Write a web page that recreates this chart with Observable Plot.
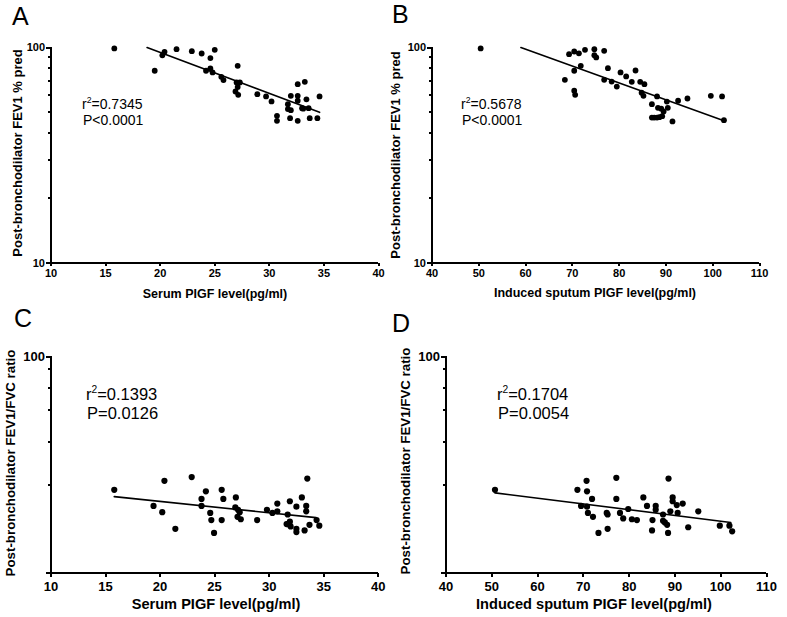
<!DOCTYPE html>
<html>
<head>
<meta charset="utf-8">
<script src="https://cdn.jsdelivr.net/npm/d3@7"></script>
<script src="https://cdn.jsdelivr.net/npm/@observablehq/plot@0.6"></script>
<style>
  html, body { margin: 0; padding: 0; background: #fff; }
  #root { position: relative; width: 787px; height: 617px; overflow: hidden; background: #fff; }
  #root > svg { position: absolute; }
  #root g[aria-label$="axis tick"] path,
  #root g[aria-label="rule"] line { shape-rendering: crispEdges; }
</style>
</head>
<body>
<div id="root"></div>
<script>
// ---------- data ----------
const serumA = [15.8,19.5,20.2,20.4,21.5,22.9,23.8,24.6,25.0,24.2,24.6,24.8,25.6,25.8,27.1,27.0,27.3,27.1,26.9,27.15,28.9,29.7,30.2,30.7,30.7,31.7,31.7,31.9,31.97,31.97,32.6,32.6,32.6,32.6,33.25,33.0,33.1,33.4,33.6,33.7,34.4,34.6];
const fev1A  = [99,78,92,95.5,98.2,96.2,93.8,89.3,97.5,78,80,76.6,73.1,70.6,82.2,68.8,68.8,65.5,62.5,60.3,60.7,59.3,56.2,48.2,45.7,54.6,51.8,47.0,51.2,59.7,67.6,59.7,56.6,45.7,69.3,52.3,52.0,57.5,52.3,47.0,47.0,59.3];

const sputumB = [50.4,68.4,69.3,70.4,70.4,71.4,71.8,70.4,70.6,72.7,74.7,74.7,75.1,76.8,76.8,77.6,78.4,79.5,80.3,81.5,82.7,83.5,84.5,85.4,84.8,85.2,87.0,88.1,87.0,87.5,88.1,88.6,89.2,88.3,89.0,89.5,90.4,90.2,91.4,92.6,94.6,99.6,102.0,102.4];
const fev1B   = [99,70.8,93.1,95.8,78,94,82.2,63,60.3,97.5,98.2,92.1,89.9,96.5,70.8,80.2,69.5,65.9,76.6,73.4,69.3,78.2,69.3,67.6,61.7,59.7,54.6,59.3,47.3,47.3,47.3,47.5,48,52.5,52,50.5,52.5,56.1,45.4,56.6,58.0,59.7,59.3,46.0];

const serumC = [15.8,19.4,20.2,20.4,21.4,22.9,23.8,23.8,24.2,24.6,24.7,24.95,25.65,25.8,25.65,26.95,26.9,27.15,27.1,27.3,27.4,28.9,29.8,30.3,30.75,30.75,31.7,31.6,31.7,31.9,31.9,31.97,32.5,32.5,32.5,33.0,33.25,33.4,33.4,33.5,33.7,34.35,34.6];
const ratioC = [80.3,78.2,77.4,81.5,75.3,82.0,79.1,78.2,80.1,77.3,76.4,74.8,80.3,79.1,76.4,79.3,78.0,77.7,76.8,77.4,76.5,76.4,77.7,77.3,78.5,77.5,77.1,75.9,75.9,78.8,76.2,75.6,78.1,75.3,74.9,79.3,75.1,78.2,77.5,81.8,75.8,76.4,75.7];

const sputumD = [50.7,68.7,70.7,70.8,69.5,70.8,71.0,71.9,72.1,73.3,75.1,75.3,75.3,77.2,77.2,78.0,78.7,79.8,80.6,81.7,83.1,83.9,85.1,85.0,85.8,85.8,87.4,87.4,87.8,88.3,88.5,88.6,89.0,89.5,89.5,90.4,90.6,91.7,92.9,95.1,99.8,101.9,102.5];
const ratioD  = [80.3,80.3,81.5,80.1,78.2,78.1,77.3,79.1,76.8,74.8,77.3,77.1,75.3,81.9,79.1,77.3,76.6,77.8,76.5,76.4,79.3,78.2,76.4,75.1,78.2,77.7,77.1,76.3,76.1,75.8,74.8,81.8,77.5,79.3,78.8,78.3,77.3,78.5,75.5,77.5,75.7,75.7,75.0];

// regression lines (end points)
const lineAx = [18.8, 34.6],  lineAy = [100, 50];
const lineBx = [59.0, 102.4], lineBy = [100, 45.7];
const lineCx = [15.8, 34.3],  lineCy = [79.4, 76.7];
const lineDx = [50.7, 102.2], lineDy = [79.9, 76.1];

// axes
const xDomainSerum = [10, 40],  xTicksSerum = [10, 15, 20, 25, 30, 35, 40];
const xDomainSputum = [40, 110], xTicksSputum = [40, 50, 60, 70, 80, 90, 100, 110];
const yDomainTop = [10, 100],    yTicksTop = [10, 100], yMinorTop = [20, 30, 40, 50, 60, 70, 80, 90];
const yDomainBottom = [70, 100], yTicksBottom = [70, 100], yMinorBottom = [97.9, 95.0, 91.5, 86.9, 80.9];

// texts
const letters = ["A", "B", "C", "D"];
const xTitles = ["Serum PIGF level(pg/ml)", "Induced sputum PIGF level(pg/ml)", "Serum PIGF level(pg/ml)", "Induced sputum PIGF level(pg/ml)"];
const yTitles = ["Post-bronchodilator FEV1 % pred", "Post-bronchodilator FEV1 % pred", "Post-bronchodilator FEV1/FVC ratio", "Post-bronchodilator FEV1/FVC ratio"];
const r2Values = ["0.7345", "0.5678", "0.1393", "0.1704"];
const pValues = ["P<0.0001", "P<0.0001", "P=0.0126", "P=0.0054"];

// ---------- drawing ----------
const FONT = "'Liberation Sans', Arial, Helvetica, sans-serif";
const root = document.getElementById("root");

function panel(o) {
  const pts = o.xs.map((x, i) => ({x, y: o.ys[i]}));
  const line = o.lx.map((x, i) => ({x, y: o.ly[i]}));
  const svg = Plot.plot({
    width: o.width, height: o.height,
    marginLeft: o.ml, marginRight: o.mr, marginTop: o.mt, marginBottom: o.mb,
    style: {fontFamily: FONT, background: "transparent", overflow: "visible", color: "#000"},
    x: {domain: o.xDomain},
    y: {type: "log", domain: o.yDomain},
    marks: [
      Plot.axisX({ticks: o.xTicks, tickSize: o.ts, tickPadding: o.tp, fontSize: o.tickFont, fontWeight: "bold",
        label: null, stroke: "#000", fill: "#000", strokeWidth: 2, tickFormat: d => String(d)}),
      Plot.axisY({ticks: o.yTicks, tickSize: 5, tickPadding: 1, fontSize: o.tickFont, fontWeight: "bold",
        label: null, stroke: "#000", fill: "#000", strokeWidth: 2, tickFormat: d => String(d)}),
      Plot.axisY({ticks: o.yMinor, tickSize: 3, tickFormat: () => "", label: null, stroke: "#000", strokeWidth: 2}),
      Plot.ruleY([o.yDomain[0]], {stroke: "#000", strokeWidth: 2}),
      Plot.ruleX([o.xDomain[0]], {stroke: "#000", strokeWidth: 2}),
      Plot.line(line, {x: "x", y: "y", stroke: "#000", strokeWidth: 1.6}),
      Plot.dot(pts, {x: "x", y: "y", r: o.r, fill: "#000", stroke: "none"})
    ]
  });
  svg.style.left = o.left + "px";
  svg.style.top = o.top + "px";
  root.appendChild(svg);
}

panel({left: 0, top: 0, width: 393, height: 300, ml: 50.5, mr: 15, mt: 47, mb: 37.5, ts: 3, tp: 3, tickFont: 11, r: 2.9,
  xs: serumA, ys: fev1A, lx: lineAx, ly: lineAy, xDomain: xDomainSerum, xTicks: xTicksSerum,
  yDomain: yDomainTop, yTicks: yTicksTop, yMinor: yMinorTop});
panel({left: 393, top: 0, width: 394, height: 300, ml: 38.5, mr: 28, mt: 47, mb: 37.5, ts: 3, tp: 3, tickFont: 11, r: 2.9,
  xs: sputumB, ys: fev1B, lx: lineBx, ly: lineBy, xDomain: xDomainSputum, xTicks: xTicksSputum,
  yDomain: yDomainTop, yTicks: yTicksTop, yMinor: yMinorTop});
panel({left: 0, top: 300, width: 393, height: 317, ml: 50.5, mr: 15.3, mt: 56, mb: 44.3, ts: 4, tp: 4.5, tickFont: 13, r: 3.1,
  xs: serumC, ys: ratioC, lx: lineCx, ly: lineCy, xDomain: xDomainSerum, xTicks: xTicksSerum,
  yDomain: yDomainBottom, yTicks: yTicksBottom, yMinor: yMinorBottom});
panel({left: 393, top: 300, width: 394, height: 317, ml: 52.5, mr: 21, mt: 56, mb: 44.3, ts: 4, tp: 4.5, tickFont: 13, r: 3.1,
  xs: sputumD, ys: ratioD, lx: lineDx, ly: lineDy, xDomain: xDomainSputum, xTicks: xTicksSputum,
  yDomain: yDomainBottom, yTicks: yTicksBottom, yMinor: yMinorBottom});

// ---------- annotations overlay ----------
const ov = d3.create("svg").attr("width", 787).attr("height", 617)
  .style("left", "0px").style("top", "0px").style("font-family", FONT);

const letterPos = [[12, 24.5], [392, 23], [14, 326.5], [392, 331.5]];
letters.forEach((t, i) => ov.append("text").attr("x", letterPos[i][0]).attr("y", letterPos[i][1])
  .attr("font-size", 25).text(t));

const xTitlePos = [[215, 297.5], [595, 296.5], [216, 608.5], [594, 608.5]];
const xTitleSize = [12.5, 12.5, 14.6, 14.6];
xTitles.forEach((t, i) => ov.append("text").attr("x", xTitlePos[i][0]).attr("y", xTitlePos[i][1])
  .attr("text-anchor", "middle").attr("font-weight", "bold").attr("font-size", xTitleSize[i]).text(t));

const yTitlePos = [[21.5, 153], [399.5, 155], [14.5, 463], [410, 461]];
const yTitleSize = [13, 13, 13.3, 13.3];
yTitles.forEach((t, i) => ov.append("text")
  .attr("transform", `translate(${yTitlePos[i][0]},${yTitlePos[i][1]}) rotate(-90)`)
  .attr("text-anchor", "middle").attr("font-weight", "bold").attr("font-size", yTitleSize[i]).text(t));

const statPos = [[82, 108.5, 124.5], [461, 108.5, 124.5], [86, 399.5, 419], [497, 399.5, 419]];
const statSize = [14, 14, 16.5, 16.5];
r2Values.forEach((v, i) => {
  const [x, y1, y2] = statPos[i];
  const t = ov.append("text").attr("x", x).attr("y", y1).attr("font-size", statSize[i]);
  t.append("tspan").text("r");
  t.append("tspan").attr("font-size", statSize[i] * 0.62).attr("dy", -statSize[i] * 0.4).text("2");
  t.append("tspan").attr("dy", statSize[i] * 0.4).text("=" + v);
  ov.append("text").attr("x", x + 1).attr("y", y2).attr("font-size", statSize[i]).text(pValues[i]);
});

root.appendChild(ov.node());
</script>
</body>
</html>
